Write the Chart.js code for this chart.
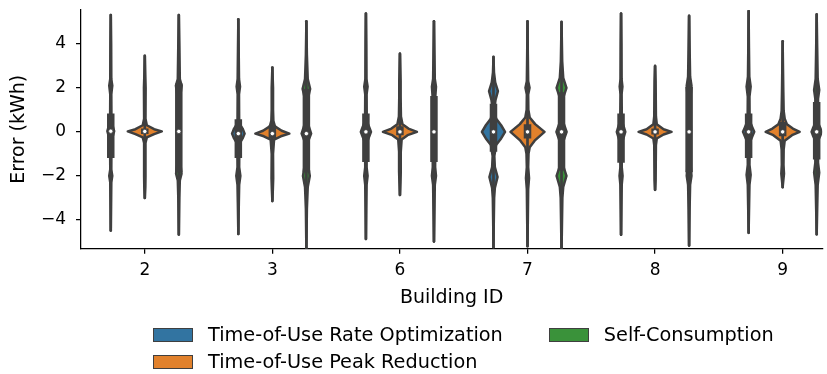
<!DOCTYPE html>
<html>
<head>
<meta charset="utf-8">
<script src="https://cdn.jsdelivr.net/npm/chart.js@4.4.0/dist/chart.umd.min.js"></script>
<style>
  html, body { margin: 0; padding: 0; background: #fff; }
  #wrap { position: relative; width: 827px; height: 374px; }
  #legend {
    position: absolute; left: 153px; top: 321px;
    display: grid; grid-auto-flow: column; grid-template-rows: 27px 27px; column-gap: 46px;
    font-family: 'DejaVu Sans'; font-size: 19.3px; color: #000;
  }
  .item { display: flex; align-items: center; white-space: nowrap; }
  .patch { width: 40px; height: 14px; box-sizing: border-box; border: 1px solid #3f3f3f; margin-right: 15px; }
</style>
</head>
<body>
<div id="wrap">
  <canvas id="violinCtx" width="827" height="374"></canvas>
  <div id="legend"></div>
</div>
<script>
const buildings = ['2', '3', '6', '7', '8', '9'];
const strategies = ['Time-of-Use Rate Optimization', 'Time-of-Use Peak Reduction', 'Self-Consumption'];
const yTicks = [-4, -2, 0, 2, 4];

// violin outlines per building: [error kWh, relative density], bottom to top
const rateOptViolins = [
    [[-4.48,0],[-3.0,0.02],[-2.3,0.03],[-2.0,0.09],[-1.7,0.03],[-0.5,0.04],[-0.2,0.12],[0.03,0.2],[0.25,0.12],[0.5,0.04],[1.7,0.03],[2.1,0.09],[2.4,0.03],[4.0,0.02],[5.3,0]],
    [[-4.63,0],[-3.2,0.03],[-2.4,0.05],[-2.0,0.12],[-1.6,0.05],[-0.55,0.06],[-0.3,0.25],[-0.08,0.37],[0.15,0.25],[0.4,0.05],[1.7,0.04],[2.05,0.1],[2.4,0.04],[3.8,0.02],[5.11,0]],
    [[-4.86,0],[-3.5,0.02],[-2.4,0.04],[-2.0,0.1],[-1.6,0.04],[-0.5,0.05],[-0.2,0.2],[0,0.3],[0.2,0.2],[0.5,0.05],[1.7,0.04],[2.05,0.1],[2.4,0.03],[4.0,0.02],[5.37,0]],
    [[-5.24,0],[-4.0,0.02],[-3.0,0.04],[-2.55,0.08],[-2.05,0.24],[-1.6,0.08],[-1.1,0.05],[-0.6,0.15],[-0.3,0.45],[0,0.68],[0.3,0.45],[0.6,0.15],[1.1,0.06],[1.45,0.12],[1.85,0.26],[2.25,0.1],[2.7,0.03],[3.4,0]],
    [[-4.67,0],[-3.5,0.02],[-2.4,0.04],[-2.0,0.09],[-1.6,0.04],[-0.5,0.05],[-0.2,0.17],[0,0.25],[0.2,0.17],[0.5,0.05],[1.7,0.03],[2.05,0.08],[2.4,0.03],[4.0,0.02],[5.37,0]],
    [[-4.58,0],[-3.3,0.03],[-2.4,0.05],[-1.95,0.12],[-1.5,0.05],[-0.5,0.06],[-0.2,0.22],[0,0.33],[0.2,0.22],[0.5,0.06],[1.6,0.05],[2.05,0.12],[2.5,0.04],[3.8,0.02],[5.48,0]]
];
const peakRedViolins = [
    [[-3.0,0],[-2.5,0.03],[-2.0,0.04],[-0.5,0.04],[-0.25,0.12],[-0.1,0.55],[0.02,1.0],[0.12,0.55],[0.3,0.12],[0.6,0.04],[2.0,0.05],[2.5,0.03],[3.45,0]],
    [[-3.14,0],[-2.6,0.03],[-2.1,0.05],[-1.0,0.04],[-0.35,0.1],[-0.2,0.5],[-0.08,1.0],[0.05,0.55],[0.25,0.15],[0.5,0.06],[1.0,0.04],[2.0,0.04],[2.92,0]],
    [[-2.86,0],[-2.3,0.03],[-1.8,0.05],[-0.9,0.05],[-0.35,0.1],[-0.15,0.45],[0,1.0],[0.15,0.5],[0.35,0.15],[0.7,0.06],[1.6,0.04],[2.3,0.04],[3.55,0]],
    [[-5.19,0],[-4.0,0.02],[-2.6,0.04],[-2.1,0.09],[-1.6,0.04],[-1.0,0.06],[-0.7,0.13],[-0.4,0.42],[0,1.0],[0.35,0.45],[0.65,0.13],[1.0,0.05],[1.7,0.04],[2.0,0.12],[2.3,0.04],[3.5,0.02],[5.02,0]],
    [[-2.63,0],[-2.2,0.03],[-1.5,0.04],[-0.6,0.05],[-0.3,0.1],[-0.12,0.5],[0,0.97],[0.12,0.5],[0.35,0.1],[0.7,0.05],[1.6,0.04],[2.3,0.03],[2.99,0]],
    [[-2.51,0],[-2.2,0.04],[-1.9,0.08],[-1.5,0.05],[-0.8,0.06],[-0.4,0.12],[-0.15,0.55],[0,1.0],[0.15,0.6],[0.35,0.25],[0.6,0.12],[0.95,0.06],[1.8,0.04],[4.11,0]]
];
const selfConsViolins = [
    [[-4.66,0],[-3.0,0.03],[-2.2,0.06],[-1.9,0.16],[-1.5,0.1],[-0.3,0.1],[0.02,0.12],[0.3,0.1],[1.7,0.1],[2.1,0.17],[2.4,0.06],[4.0,0.03],[5.3,0]],
    [[-5.45,0],[-3.5,0.03],[-2.5,0.08],[-2.0,0.2],[-1.6,0.12],[-0.4,0.12],[-0.08,0.28],[0.3,0.12],[1.6,0.12],[1.95,0.22],[2.4,0.08],[3.5,0.03],[5.02,0]],
    [[-4.98,0],[-3.5,0.03],[-2.4,0.05],[-2.0,0.12],[-1.6,0.07],[-0.3,0.08],[0,0.1],[0.3,0.08],[1.6,0.08],[2.05,0.12],[2.4,0.05],[3.5,0.03],[5.02,0]],
    [[-5.5,0],[-4.0,0.03],[-3.0,0.05],[-2.5,0.1],[-2.0,0.29],[-1.6,0.12],[-0.4,0.12],[0,0.3],[0.4,0.12],[1.6,0.12],[2.0,0.29],[2.45,0.1],[3.2,0.04],[4.99,0]],
    [[-5.16,0],[-3.5,0.03],[-2.4,0.06],[-2.0,0.14],[-1.6,0.1],[-0.3,0.1],[0,0.11],[0.3,0.1],[1.7,0.1],[2.1,0.14],[2.5,0.06],[3.8,0.03],[5.27,0]],
    [[-4.65,0],[-3.5,0.03],[-2.4,0.06],[-1.85,0.15],[-1.4,0.08],[-0.4,0.08],[-0.2,0.2],[0,0.3],[0.2,0.2],[0.4,0.08],[1.5,0.08],[1.9,0.15],[2.4,0.06],[3.8,0.03],[5.33,0]]
];

// inner box per building: [q1, median, q3]
const rateOptBoxes = [[-1.19,0.03,0.83],[-1.19,-0.08,0.57],[-1.37,0,0.83],[-0.9,0,1.28],[-1.4,0,0.83],[-1.19,0,0.83]];
const peakRedBoxes = [[-0.1,0.02,0.15],[-0.3,-0.08,0.3],[-0.15,0,0.25],[-0.3,0,0.35],[-0.12,0,0.15],[-0.2,0,0.45]];
const selfConsBoxes = [[-1.83,0.02,2.19],[-1.83,-0.08,1.96],[-1.37,0,1.63],[-1.75,0,1.8],[-1.83,0,2.04],[-1.25,0,1.36]];

const colors = ['#3274a1', '#e1812c', '#3a923a'];
const edgeColor = '#3f3f3f';
const hueOffsets = [-0.2667, 0, 0.2667];
const halfWidth = 0.1333;

const violinSets = [rateOptViolins, peakRedViolins, selfConsViolins];
const boxSets = [rateOptBoxes, peakRedBoxes, selfConsBoxes];

Chart.defaults.font.family = 'DejaVu Sans';
Chart.defaults.color = '#000';

/// draws the violin bodies, whiskers and boxes under the median points
const violinPlugin = {
    id: 'violins',
    beforeDatasetsDraw(chart) {
        const {ctx, chartArea, scales: {x, y}} = chart;
        ctx.save();
        ctx.beginPath();
        ctx.rect(chartArea.left, chartArea.top, chartArea.width, chartArea.height);
        ctx.clip();
        violinSets.forEach((set, h) => {
            set.forEach((shape, i) => {
                const cx = i + hueOffsets[h];
                ctx.beginPath();
                shape.forEach(([v, d], k) => {
                    const px = x.getPixelForValue(cx + d * halfWidth);
                    const py = y.getPixelForValue(v);
                    if (k) ctx.lineTo(px, py); else ctx.moveTo(px, py);
                });
                for (let k = shape.length - 1; k >= 0; k--) {
                    const [v, d] = shape[k];
                    ctx.lineTo(x.getPixelForValue(cx - d * halfWidth), y.getPixelForValue(v));
                }
                ctx.closePath();
                ctx.fillStyle = colors[h];
                ctx.fill();
                ctx.strokeStyle = edgeColor;
                ctx.lineJoin = 'round';
                ctx.lineWidth = 2.5;
                ctx.stroke();

                // whisker
                const xc = x.getPixelForValue(cx);
                ctx.beginPath();
                ctx.moveTo(xc, y.getPixelForValue(shape[0][0]));
                ctx.lineTo(xc, y.getPixelForValue(shape[shape.length - 1][0]));
                ctx.lineCap = 'round';
                ctx.lineWidth = 2.7;
                ctx.stroke();

                // box
                const [q1, , q3] = boxSets[h][i];
                ctx.beginPath();
                ctx.moveTo(xc, y.getPixelForValue(q1));
                ctx.lineTo(xc, y.getPixelForValue(q3));
                ctx.lineCap = 'butt';
                ctx.lineWidth = 7.5;
                ctx.stroke();
            });
        });
        ctx.restore();
    }
};

var violinChart = new Chart(document.getElementById('violinCtx'), {
    type: 'scatter',
    data: {
        datasets: strategies.map((name, h) => ({
            label: name,
            data: boxSets[h].map((b, i) => ({x: i + hueOffsets[h], y: b[1]})),
            pointRadius: 2.2,
            pointBackgroundColor: '#fff',
            pointBorderColor: edgeColor,
            pointBorderWidth: 0.8
        }))
    },
    options: {
        responsive: false,
        animation: false,
        events: [],
        layout: {padding: {top: 10, right: 2, bottom: 66, left: 0}},
        plugins: {legend: {display: false}, tooltip: {enabled: false}},
        scales: {
            x: {
                type: 'linear',
                min: -0.5,
                max: 5.31,
                afterBuildTicks: (scale) => { scale.ticks = buildings.map((b, i) => ({value: i})); },
                ticks: {callback: (v) => buildings[v], font: {size: 17}, padding: 7, maxRotation: 0},
                grid: {drawOnChartArea: false, drawTicks: true, tickLength: 5, color: '#000', lineWidth: 1.25},
                border: {display: true, color: '#000', width: 1.25},
                title: {display: true, text: 'Building ID', font: {size: 19, lineHeight: 1.05}, padding: {top: 0, bottom: 0}}
            },
            y: {
                min: -5.3,
                max: 5.53,
                afterBuildTicks: (scale) => { scale.ticks = yTicks.map(v => ({value: v})); },
                afterFit: (scale) => { scale.width = 81; scale.paddingTop = 0; scale.paddingBottom = 0; },
                ticks: {callback: (v) => v < 0 ? '\u2212' + Math.abs(v) : String(v), font: {size: 17}, padding: 10},
                grid: {drawOnChartArea: false, drawTicks: true, tickLength: 5, color: '#000', lineWidth: 1.25},
                border: {display: true, color: '#000', width: 1.25},
                title: {display: true, text: 'Error (kWh)', font: {size: 19, lineHeight: 1.2}, padding: {top: 8, bottom: 0}}
            }
        }
    },
    plugins: [violinPlugin]
});

// legend below the chart, two columns
const legendDiv = document.getElementById('legend');
strategies.forEach((name, h) => {
    const item = document.createElement('div');
    item.className = 'item';
    const patch = document.createElement('span');
    patch.className = 'patch';
    patch.style.background = colors[h];
    const label = document.createElement('span');
    label.textContent = name;
    item.appendChild(patch);
    item.appendChild(label);
    legendDiv.appendChild(item);
});
</script>
</body>
</html>
